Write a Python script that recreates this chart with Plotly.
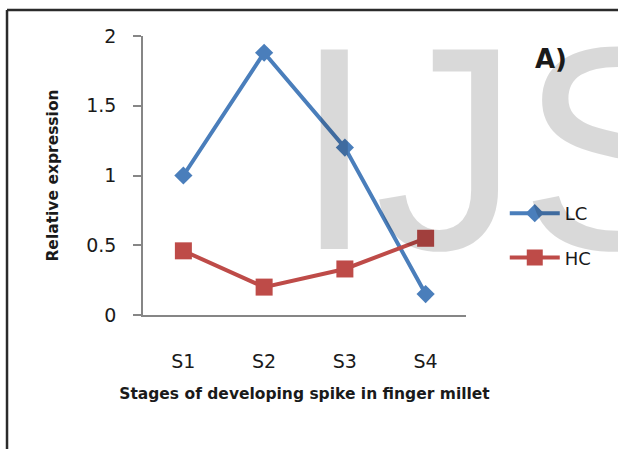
import plotly.graph_objects as go

stages = ["S1", "S2", "S3", "S4"]
lc_values = [1.0, 1.88, 1.20, 0.15]
hc_values = [0.46, 0.20, 0.33, 0.55]
y_ticks = [0, 0.5, 1, 1.5, 2]
y_tick_labels = ["0", "0.5", "1", "1.5", "2"]

FONT = "DejaVu Sans"
BLUE = "#4A7EBB"
RED = "#BE4B48"
AXIS = "#868686"
TXT = "#1a1a1a"

fig = go.Figure()
fig.add_trace(go.Scatter(
    x=stages, y=lc_values, name="LC", mode="lines+markers",
    line=dict(color=BLUE, width=4),
    marker=dict(symbol="diamond", size=14, color=BLUE),
    legendgroup="lc",
))
fig.add_trace(go.Scatter(
    x=stages, y=hc_values, name="HC", mode="lines+markers",
    line=dict(color=RED, width=4),
    marker=dict(symbol="square", size=17, color=RED),
    legendgroup="hc",
))

fig.update_layout(
    width=618, height=449,
    margin=dict(l=143, r=152, t=36, b=134),
    paper_bgcolor="white", plot_bgcolor="white",
    font=dict(family=FONT, color=TXT),
    showlegend=True,
    legend=dict(
        x=1.12, xanchor="left", y=0.285, yanchor="middle",
        font=dict(size=18, family=FONT, color=TXT),
        tracegroupgap=18, bgcolor="rgba(0,0,0,0)", itemwidth=50,
    ),
    xaxis=dict(
        type="category", range=[-0.5, 3.5],
        showline=True, linecolor=AXIS, linewidth=1.5,
        ticks="", showgrid=False, zeroline=False,
        tickfont=dict(size=19, family=FONT, color=TXT),
        ticklabelstandoff=28,
        title=dict(text="<b>Stages of developing spike in finger millet</b>",
                   font=dict(size=15.5, family=FONT, color=TXT), standoff=18),
    ),
    yaxis=dict(
        range=[0, 2], tickvals=y_ticks, ticktext=y_tick_labels,
        showline=True, linecolor=AXIS, linewidth=1.5,
        ticks="outside", ticklen=8, tickcolor=AXIS, tickwidth=1.5,
        showgrid=False, zeroline=False,
        tickfont=dict(size=19, family=FONT, color=TXT),
        ticklabelstandoff=13,
        title=dict(text="<b>Relative expression</b>",
                   font=dict(size=15.5, family=FONT, color=TXT), standoff=24),
    ),
)

# Watermark
fig.add_annotation(
    text="IJS", xref="paper", yref="paper", x=0.46, y=0.597,
    xanchor="left", yanchor="middle", showarrow=False,
    font=dict(size=290, family="Liberation Sans", color="rgba(0,0,0,0.15)"),
)
# Panel label
fig.add_annotation(
    text="<b>A)</b>", xref="paper", yref="paper", x=1.263, y=0.918,
    xanchor="center", yanchor="middle", showarrow=False,
    font=dict(size=26, family=FONT, color=TXT),
)
# Frame
fig.add_shape(type="line", xref="paper", yref="paper",
              x0=-0.421, x1=-0.421, y0=-0.7, y1=1.093,
              line=dict(color="#2b2b2b", width=2.5))
fig.add_shape(type="line", xref="paper", yref="paper",
              x0=-0.421, x1=1.6, y0=1.093, y1=1.093,
              line=dict(color="#2b2b2b", width=2.5))

fig.write_html("out.html", config={"displayModeBar": False},
               post_script="document.body.style.margin='0';")
